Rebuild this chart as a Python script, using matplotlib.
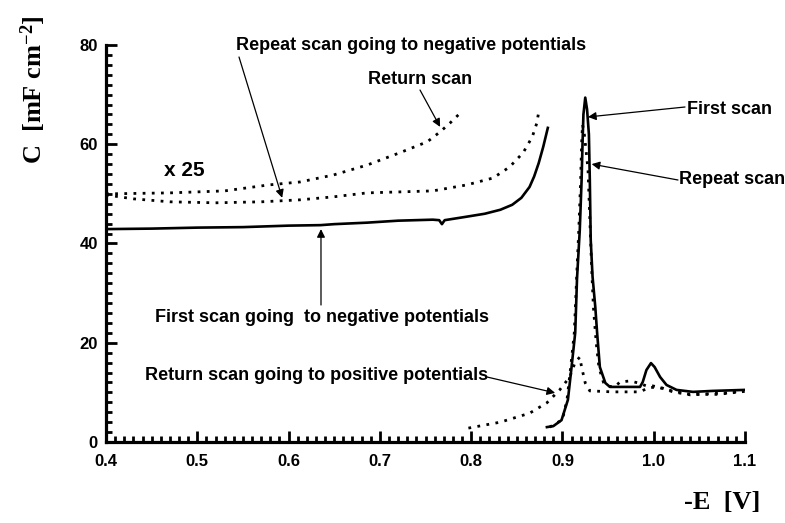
import matplotlib
matplotlib.use("Agg")
import matplotlib.pyplot as plt
from matplotlib.ticker import MultipleLocator

# ---------------- data ----------------
# x25 magnified curves (values as displayed)
E_first_neg = [0.40, 0.45, 0.50, 0.55, 0.60, 0.635, 0.65, 0.686, 0.72, 0.758, 0.765,
               0.768, 0.771, 0.795, 0.815, 0.832, 0.845, 0.855, 0.864, 0.869, 0.874,
               0.879, 0.884]
C_first_neg = [42.9, 43.0, 43.2, 43.3, 43.6, 43.7, 43.9, 44.2, 44.6, 44.8, 44.7,
               43.9, 44.7, 45.4, 46.0, 46.8, 47.8, 49.2, 51.4, 53.5, 56.2,
               59.5, 63.3]

E_repeat_neg = [0.40, 0.43, 0.47, 0.52, 0.57, 0.6125, 0.649, 0.686, 0.722, 0.758,
                0.795, 0.824, 0.842, 0.857, 0.867, 0.872, 0.874]
C_repeat_neg = [49.8, 49.0, 48.4, 48.2, 48.4, 48.8, 49.4, 50.2, 50.4, 50.6,
                51.8, 53.2, 55.4, 58.3, 61.5, 64.3, 66.5]

E_return_neg = [0.40, 0.47, 0.53, 0.578, 0.6125, 0.649, 0.686, 0.722, 0.752,
                0.766, 0.777, 0.787]
C_return_neg = [50.0, 50.2, 50.6, 51.8, 52.4, 53.8, 55.8, 58.3, 60.5,
                62.5, 64.3, 66.1]

# real-scale curves
E_first = [0.883, 0.89, 0.899, 0.906, 0.910, 0.914, 0.916, 0.919, 0.921, 0.922,
           0.923, 0.925, 0.927, 0.929, 0.930, 0.931, 0.933, 0.936, 0.938, 0.941,
           0.947, 0.952, 0.963, 0.985, 0.988, 0.992, 0.997, 1.001, 1.007, 1.014,
           1.025, 1.043, 1.065, 1.1]
C_first = [3.0, 3.2, 4.4, 8.5, 15.1, 22.0, 33.0, 42.7, 52.8, 60.0,
           66.0, 69.4, 67.0, 62.0, 52.8, 40.7, 33.3, 27.2, 22.0, 15.1,
           11.9, 11.1, 11.1, 11.1, 12.1, 14.5, 15.9, 15.1, 13.1, 11.5,
           10.5, 10.1, 10.3, 10.5]

E_repeat = [0.886, 0.90, 0.905, 0.909, 0.913, 0.916, 0.918, 0.920, 0.921, 0.922,
            0.924, 0.928, 0.930, 0.932, 0.934, 0.937, 0.940, 0.945, 0.95, 0.958,
            0.963, 0.974, 0.983, 0.992, 0.999, 1.009, 1.021, 1.04, 1.058, 1.08, 1.098]
C_repeat = [3.0, 4.5, 8.5, 15.0, 22.0, 35.0, 43.0, 53.0, 60.0, 64.0,
            62.0, 55.0, 45.0, 35.0, 27.0, 20.0, 15.0, 12.0, 11.2, 11.2,
            12.1, 12.3, 11.9, 11.3, 11.3, 10.9, 10.1, 9.5, 9.7, 9.9, 10.3]

E_return_pos = [0.797, 0.832, 0.864, 0.883, 0.897, 0.908, 0.914, 0.919, 0.921,
                0.925, 0.930, 0.955, 0.985, 0.995, 1.005, 1.02, 1.04, 1.07, 1.1]
C_return_pos = [2.8, 4.0, 5.8, 7.9, 10.5, 13.1, 16.1, 17.1, 15.1,
                11.9, 10.3, 10.1, 10.1, 11.0, 11.0, 10.3, 9.6, 9.6, 10.2]

x_ticks = [0.4, 0.5, 0.6, 0.7, 0.8, 0.9, 1.0, 1.1]
x_ticklabels = ["0.4", "0.5", "0.6", "0.7", "0.8", "0.9", "1.0", "1.1"]
y_ticks = [0, 20, 40, 60, 80]
y_ticklabels = ["0", "20", "40", "60", "80"]

# ---------------- figure ----------------
W, H = 785, 523
plt.rcParams['mathtext.fontset'] = 'custom'
plt.rcParams['mathtext.rm'] = 'Liberation Serif:bold'
plt.rcParams['mathtext.bf'] = 'Liberation Serif:bold'
plt.rcParams['mathtext.it'] = 'Liberation Serif:bold'
plt.rcParams['mathtext.default'] = 'rm'

fig = plt.figure(figsize=(W / 100, H / 100), dpi=100)
fig.patch.set_facecolor('white')
ax = fig.add_axes([106 / W, (H - 442) / H, (745 - 106) / W, (442 - 45) / H])

dot = (0, (1, 2.3))
ax.plot(E_first_neg, C_first_neg, color='black', lw=1.9)
ax.plot(E_repeat_neg, C_repeat_neg, color='black', lw=2.0, linestyle=dot)
ax.plot(E_return_neg, C_return_neg, color='black', lw=2.0, linestyle=dot)
ax.plot(E_first, C_first, color='black', lw=1.9)
ax.plot(E_repeat, C_repeat, color='black', lw=2.0, linestyle=dot)
ax.plot(E_return_pos, C_return_pos, color='black', lw=2.0, linestyle=dot)

ax.set_xlim(0.4, 1.1)
ax.set_ylim(0, 80)
for s in ['top', 'right']:
    ax.spines[s].set_visible(False)
for s in ['left', 'bottom']:
    ax.spines[s].set_linewidth(2.3)

ax.set_xticks(x_ticks)
ax.set_xticklabels(x_ticklabels)
ax.set_yticks(y_ticks)
ax.set_yticklabels(y_ticklabels)
ax.xaxis.set_minor_locator(MultipleLocator(0.01))
ax.yaxis.set_minor_locator(MultipleLocator(2))
ax.tick_params(which='major', direction='in', length=8, width=2.0)
ax.tick_params(which='minor', direction='in', length=4.5, width=2.0)
ax.tick_params(axis='x', which='major', pad=9)
ax.tick_params(axis='y', which='major', pad=6)
for lab in ax.get_xticklabels() + ax.get_yticklabels():
    lab.set_fontfamily('Liberation Sans')
    lab.set_fontweight('bold')
    lab.set_fontsize(12)

fig.text(33 / W, 1 - 90 / H, 'C  [mF cm$^{-2}$]', rotation=90, ha='center', va='center',
         fontfamily='Liberation Serif', fontweight='bold', fontsize=19)
fig.text(722 / W, 1 - 502 / H, '-E  [V]', ha='center', va='center',
         fontfamily='Liberation Serif', fontweight='bold', fontsize=19)

tkw = dict(fontfamily='Liberation Sans', fontweight='bold', fontsize=13, va='center', ha='left')

def ftext(px, py, s, **kw):
    d = dict(tkw); d.update(kw)
    fig.text(px / W, 1 - py / H, s, **d)

ftext(236, 45, 'Repeat scan going to negative potentials')
ftext(368, 80, 'Return scan')
ftext(164, 171, 'x 25', fontsize=15)
ftext(155, 317, 'First scan going  to negative potentials')
ftext(145, 375, 'Return scan going to positive potentials')
ftext(687, 110, 'First scan')
ftext(679, 180, 'Repeat scan')

arrows = [((239, 57), (0.593, 49.2)),
          ((420, 90), (0.766, 63.5)),
          ((321, 305), (0.6355, 42.9)),
          ((487, 377), (0.892, 9.9)),
          ((685, 107), (0.928, 65.5)),
          ((678, 180), (0.932, 56.0))]
for (px, py), xy in arrows:
    ax.annotate('', xy=xy, xycoords='data', xytext=(px, H - py), textcoords='figure pixels',
                arrowprops=dict(arrowstyle='-|>', lw=0.9, color='black',
                                mutation_scale=12, shrinkA=0, shrinkB=0),
                annotation_clip=False)

fig.savefig('out.png', dpi=100, facecolor='white')
